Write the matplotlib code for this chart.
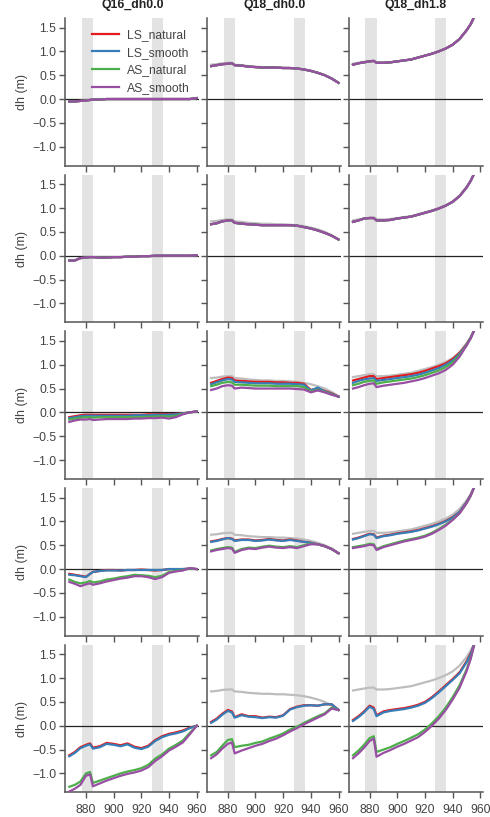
# Bibliothèque utilisée pour les calculs numériques
import numpy as np

# Bibliothèque utilisée pour tracer la grille de graphiques
import matplotlib
matplotlib.use("Agg")
import matplotlib.pyplot as plt

# Années échantillonnées (colonnes 1 et 2, puis colonne 3)
annees_12 = [868, 872, 876, 880, 883, 885, 890, 895, 900, 905, 910,
             915, 920, 925, 930, 935, 940, 945, 950, 955, 960]
annees_3 = [868, 872, 876, 880, 883, 885, 890, 895, 900, 905, 910,
            915, 920, 925, 930, 935, 940, 945, 950, 953, 956]

titres = ["Q16_dh0.0", "Q18_dh0.0", "Q18_dh1.8"]
series = ["LS_natural", "LS_smooth", "AS_natural", "AS_smooth"]

# Courbes de référence (en gris) des colonnes 2 et 3 ; la colonne 1 n'en a pas
ref_c2 = [0.72, 0.73, 0.75, 0.76, 0.76, 0.72, 0.71, 0.69, 0.68, 0.67, 0.67,
          0.66, 0.66, 0.65, 0.64, 0.62, 0.59, 0.55, 0.50, 0.43, 0.34]
ref_c3 = [0.74, 0.76, 0.78, 0.80, 0.80, 0.76, 0.76, 0.77, 0.79, 0.81, 0.83,
          0.87, 0.91, 0.95, 1.00, 1.06, 1.14, 1.26, 1.44, 1.57, 1.75]

# Ligne 1 : les quatre séries se confondent
r1_c1 = [-0.05, -0.05, -0.04, -0.03, -0.02, -0.01, -0.01, 0.0, 0.0, 0.0, 0.0,
         0.0, 0.0, 0.0, 0.0, 0.0, 0.0, 0.0, 0.0, 0.0, 0.02]
r1_c2 = [0.69, 0.71, 0.73, 0.74, 0.75, 0.71, 0.70, 0.68, 0.67, 0.66, 0.66,
         0.66, 0.65, 0.65, 0.64, 0.62, 0.59, 0.55, 0.50, 0.43, 0.34]
r1_c3 = [0.72, 0.75, 0.77, 0.79, 0.80, 0.76, 0.76, 0.77, 0.79, 0.81, 0.83,
         0.87, 0.91, 0.95, 1.00, 1.06, 1.14, 1.26, 1.44, 1.57, 1.75]

# Ligne 2 : idem
r2_c1 = [-0.10, -0.10, -0.05, -0.04, -0.03, -0.03, -0.04, -0.04, -0.03, -0.03, -0.02,
         -0.02, -0.01, -0.01, 0.0, 0.0, 0.0, 0.0, 0.0, 0.0, 0.01]
r2_c2 = [0.66, 0.68, 0.72, 0.74, 0.74, 0.69, 0.67, 0.66, 0.65, 0.64, 0.64,
         0.64, 0.64, 0.64, 0.63, 0.60, 0.57, 0.53, 0.48, 0.42, 0.34]
r2_c3 = [0.71, 0.74, 0.78, 0.79, 0.79, 0.74, 0.74, 0.75, 0.78, 0.80, 0.82,
         0.86, 0.90, 0.94, 0.99, 1.05, 1.13, 1.25, 1.43, 1.57, 1.75]

# Ligne 3
r3_c1_lsn = [-0.10, -0.08, -0.06, -0.05, -0.05, -0.05, -0.05, -0.05, -0.05, -0.05, -0.05,
             -0.05, -0.05, -0.04, -0.04, -0.03, -0.04, -0.03, -0.02, 0.0, 0.02]
r3_c1_lss = [-0.12, -0.10, -0.08, -0.07, -0.07, -0.07, -0.07, -0.07, -0.07, -0.07, -0.07,
             -0.06, -0.06, -0.06, -0.05, -0.05, -0.05, -0.04, -0.02, 0.0, 0.02]
r3_c1_asn = [-0.15, -0.13, -0.11, -0.10, -0.10, -0.11, -0.10, -0.10, -0.10, -0.10, -0.10,
             -0.10, -0.10, -0.09, -0.09, -0.08, -0.09, -0.07, -0.03, 0.0, 0.02]
r3_c1_ass = [-0.20, -0.17, -0.15, -0.15, -0.14, -0.16, -0.15, -0.14, -0.14, -0.14, -0.14,
             -0.13, -0.13, -0.12, -0.12, -0.11, -0.13, -0.10, -0.04, 0.0, 0.02]
r3_c2_lsn = [0.62, 0.66, 0.70, 0.73, 0.72, 0.67, 0.66, 0.65, 0.64, 0.64, 0.64,
             0.63, 0.63, 0.62, 0.62, 0.60, 0.47, 0.50, 0.45, 0.40, 0.33]
r3_c2_lss = [0.59, 0.63, 0.67, 0.70, 0.69, 0.64, 0.63, 0.62, 0.61, 0.61, 0.61,
             0.60, 0.60, 0.60, 0.59, 0.58, 0.46, 0.52, 0.44, 0.39, 0.33]
r3_c2_asn = [0.55, 0.58, 0.62, 0.64, 0.63, 0.58, 0.58, 0.57, 0.56, 0.56, 0.56,
             0.55, 0.55, 0.55, 0.55, 0.53, 0.44, 0.47, 0.43, 0.38, 0.33]
r3_c2_ass = [0.47, 0.50, 0.55, 0.57, 0.56, 0.50, 0.52, 0.51, 0.50, 0.50, 0.50,
             0.50, 0.50, 0.50, 0.49, 0.48, 0.42, 0.46, 0.42, 0.37, 0.33]
r3_c3_lsn = [0.67, 0.70, 0.73, 0.76, 0.76, 0.70, 0.72, 0.74, 0.76, 0.78, 0.80,
             0.83, 0.87, 0.92, 0.97, 1.03, 1.12, 1.25, 1.43, 1.57, 1.75]
r3_c3_lss = [0.62, 0.66, 0.69, 0.71, 0.72, 0.66, 0.68, 0.70, 0.72, 0.74, 0.76,
             0.79, 0.83, 0.88, 0.93, 1.00, 1.09, 1.23, 1.42, 1.57, 1.75]
r3_c3_asn = [0.57, 0.60, 0.64, 0.66, 0.67, 0.60, 0.63, 0.65, 0.67, 0.69, 0.71,
             0.74, 0.78, 0.83, 0.88, 0.95, 1.05, 1.20, 1.41, 1.56, 1.75]
r3_c3_ass = [0.50, 0.53, 0.57, 0.60, 0.61, 0.53, 0.56, 0.58, 0.60, 0.62, 0.65,
             0.68, 0.72, 0.77, 0.82, 0.89, 1.00, 1.17, 1.40, 1.55, 1.75]

# Ligne 4
r4_c1_lsn = [-0.10, -0.12, -0.14, -0.16, -0.10, -0.06, -0.04, -0.02, -0.02, -0.03, -0.02,
             -0.02, -0.01, -0.02, -0.03, -0.02, 0.0, 0.0, 0.0, 0.01, 0.0]
r4_c1_lss = [-0.12, -0.13, -0.15, -0.17, -0.10, -0.06, -0.04, -0.03, -0.03, -0.03, -0.02,
             -0.02, -0.02, -0.02, -0.02, -0.02, 0.0, 0.0, 0.0, 0.01, 0.0]
r4_c1_asn = [-0.22, -0.27, -0.30, -0.28, -0.25, -0.28, -0.26, -0.22, -0.20, -0.17, -0.15,
             -0.12, -0.13, -0.14, -0.17, -0.14, -0.06, -0.04, -0.02, 0.01, 0.0]
r4_c1_ass = [-0.27, -0.31, -0.36, -0.32, -0.30, -0.33, -0.30, -0.26, -0.23, -0.20, -0.18,
             -0.15, -0.15, -0.17, -0.21, -0.17, -0.08, -0.05, -0.03, 0.02, 0.0]
r4_c2_lsn = [0.58, 0.60, 0.63, 0.65, 0.64, 0.60, 0.62, 0.62, 0.60, 0.61, 0.63,
             0.61, 0.60, 0.62, 0.60, 0.57, 0.55, 0.52, 0.48, 0.42, 0.33]
r4_c2_lss = [0.57, 0.59, 0.62, 0.65, 0.63, 0.59, 0.61, 0.61, 0.59, 0.60, 0.62,
             0.60, 0.59, 0.61, 0.59, 0.57, 0.55, 0.52, 0.48, 0.42, 0.33]
r4_c2_asn = [0.39, 0.42, 0.44, 0.46, 0.45, 0.36, 0.42, 0.45, 0.44, 0.47, 0.49,
             0.47, 0.46, 0.48, 0.46, 0.50, 0.53, 0.52, 0.48, 0.42, 0.33]
r4_c2_ass = [0.37, 0.40, 0.42, 0.44, 0.43, 0.34, 0.40, 0.43, 0.42, 0.45, 0.47,
             0.45, 0.44, 0.46, 0.44, 0.48, 0.52, 0.52, 0.48, 0.42, 0.33]
r4_c3_lsn = [0.63, 0.66, 0.70, 0.74, 0.73, 0.66, 0.70, 0.72, 0.75, 0.77, 0.79,
             0.82, 0.86, 0.90, 0.95, 1.01, 1.09, 1.20, 1.40, 1.55, 1.75]
r4_c3_lss = [0.62, 0.65, 0.69, 0.73, 0.72, 0.65, 0.69, 0.71, 0.74, 0.76, 0.78,
             0.81, 0.85, 0.89, 0.94, 1.00, 1.08, 1.20, 1.40, 1.55, 1.75]
r4_c3_asn = [0.46, 0.48, 0.50, 0.53, 0.52, 0.42, 0.48, 0.52, 0.56, 0.60, 0.63,
             0.66, 0.70, 0.76, 0.84, 0.93, 1.04, 1.17, 1.38, 1.54, 1.75]
r4_c3_ass = [0.44, 0.46, 0.48, 0.51, 0.50, 0.40, 0.46, 0.50, 0.54, 0.58, 0.61,
             0.64, 0.68, 0.74, 0.82, 0.91, 1.03, 1.17, 1.38, 1.54, 1.75]

# Ligne 5
r5_c1_lsn = [-0.62, -0.55, -0.45, -0.40, -0.37, -0.46, -0.43, -0.36, -0.38, -0.41, -0.37,
             -0.44, -0.47, -0.42, -0.30, -0.22, -0.17, -0.14, -0.10, -0.04, 0.0]
r5_c1_lss = [-0.64, -0.57, -0.47, -0.42, -0.39, -0.48, -0.45, -0.38, -0.40, -0.43, -0.39,
             -0.46, -0.49, -0.44, -0.32, -0.24, -0.19, -0.16, -0.12, -0.05, 0.0]
r5_c1_asn = [-1.28, -1.24, -1.17, -1.00, -0.97, -1.20, -1.15, -1.10, -1.05, -1.00, -0.96,
             -0.93, -0.89, -0.82, -0.69, -0.60, -0.48, -0.40, -0.31, -0.15, 0.0]
r5_c1_ass = [-1.38, -1.32, -1.24, -1.05, -1.02, -1.27, -1.21, -1.15, -1.10, -1.05, -1.01,
             -0.98, -0.94, -0.87, -0.74, -0.64, -0.52, -0.44, -0.35, -0.18, 0.0]
r5_c2_lsn = [0.08, 0.15, 0.25, 0.33, 0.30, 0.18, 0.24, 0.20, 0.20, 0.17, 0.19,
             0.18, 0.22, 0.35, 0.40, 0.43, 0.43, 0.42, 0.45, 0.45, 0.33]
r5_c2_lss = [0.06, 0.13, 0.23, 0.31, 0.28, 0.17, 0.22, 0.19, 0.18, 0.16, 0.18,
             0.17, 0.21, 0.34, 0.39, 0.42, 0.43, 0.42, 0.45, 0.45, 0.33]
r5_c2_asn = [-0.62, -0.55, -0.42, -0.30, -0.28, -0.45, -0.42, -0.40, -0.36, -0.33, -0.27,
             -0.22, -0.16, -0.08, -0.02, 0.06, 0.13, 0.20, 0.26, 0.38, 0.33]
r5_c2_ass = [-0.68, -0.60, -0.48, -0.38, -0.35, -0.58, -0.52, -0.47, -0.42, -0.38, -0.32,
             -0.27, -0.20, -0.12, -0.05, 0.03, 0.10, 0.17, 0.24, 0.36, 0.33]
r5_c3_lsn = [0.12, 0.20, 0.30, 0.42, 0.38, 0.22, 0.30, 0.33, 0.35, 0.37, 0.40,
             0.44, 0.50, 0.60, 0.72, 0.85, 0.98, 1.12, 1.35, 1.52, 1.75]
r5_c3_lss = [0.10, 0.18, 0.28, 0.40, 0.35, 0.20, 0.28, 0.31, 0.33, 0.35, 0.38,
             0.42, 0.48, 0.58, 0.70, 0.83, 0.96, 1.10, 1.33, 1.50, 1.75]
r5_c3_asn = [-0.62, -0.52, -0.40, -0.26, -0.22, -0.55, -0.50, -0.45, -0.38, -0.32, -0.25,
             -0.18, -0.08, 0.05, 0.20, 0.38, 0.60, 0.85, 1.18, 1.42, 1.75]
r5_c3_ass = [-0.68, -0.58, -0.46, -0.32, -0.27, -0.65, -0.57, -0.51, -0.44, -0.38, -0.31,
             -0.24, -0.13, 0.00, 0.15, 0.33, 0.55, 0.80, 1.14, 1.40, 1.75]

# Périodes grisées
periodes = [(877, 885), (927.5, 935.5)]

graduations_x = [880, 900, 920, 940, 960]
graduations_y = [-1.0, -0.5, 0.0, 0.5, 1.0, 1.5]


def tracer_grille():
    """Trace la grille 5 x 3 des variations de niveau dh."""

    plt.rcParams['font.family'] = ['Liberation Sans', 'DejaVu Sans']
    plt.rcParams['text.color'] = '#444444'
    plt.rcParams['axes.labelcolor'] = '#444444'
    plt.rcParams['xtick.color'] = '#444444'
    plt.rcParams['ytick.color'] = '#444444'

    couleurs = ['#e41a1c', '#377eb8', '#4daf4a', '#984ea3']
    gris_ref = '#bdbdbd'

    # Tableau des panneaux : une liste de 4 séries par case
    panneaux = [
        [[r1_c1] * 4, [r1_c2] * 4, [r1_c3] * 4],
        [[r2_c1] * 4, [r2_c2] * 4, [r2_c3] * 4],
        [[r3_c1_lsn, r3_c1_lss, r3_c1_asn, r3_c1_ass],
         [r3_c2_lsn, r3_c2_lss, r3_c2_asn, r3_c2_ass],
         [r3_c3_lsn, r3_c3_lss, r3_c3_asn, r3_c3_ass]],
        [[r4_c1_lsn, r4_c1_lss, r4_c1_asn, r4_c1_ass],
         [r4_c2_lsn, r4_c2_lss, r4_c2_asn, r4_c2_ass],
         [r4_c3_lsn, r4_c3_lss, r4_c3_asn, r4_c3_ass]],
        [[r5_c1_lsn, r5_c1_lss, r5_c1_asn, r5_c1_ass],
         [r5_c2_lsn, r5_c2_lss, r5_c2_asn, r5_c2_ass],
         [r5_c3_lsn, r5_c3_lss, r5_c3_asn, r5_c3_ass]],
    ]
    references = [None, ref_c2, ref_c3]
    abscisses = [annees_12, annees_12, annees_3]

    fig, axes = plt.subplots(5, 3, figsize=(4.9, 8.17), dpi=100)
    fig.subplots_adjust(left=0.133, right=0.986, top=0.978, bottom=0.03,
                        wspace=0.056, hspace=0.06)

    for i in range(5):
        for j in range(3):
            ax = axes[i, j]
            x = np.array(abscisses[j])

            for debut, fin in periodes:
                ax.axvspan(debut, fin, color='#e3e3e3', lw=0, zorder=0)

            ax.axhline(0, color='#222222', lw=0.9, zorder=1)
            if references[j] is not None:
                ax.plot(x, references[j], color=gris_ref, lw=1.6, zorder=2)

            for k, nom in enumerate(series):
                ax.plot(x, panneaux[i][j][k], color=couleurs[k], lw=1.6,
                        label=nom, zorder=3 + k)

            ax.set_xlim(865, 962)
            ax.set_ylim(-1.4, 1.7)
            ax.set_xticks(graduations_x)
            ax.set_yticks(graduations_y)

            # Style proche de seaborn « ticks »
            for cote in ['top', 'right']:
                ax.spines[cote].set_visible(False)
            for cote in ['left', 'bottom']:
                ax.spines[cote].set_color('#555555')
                ax.spines[cote].set_linewidth(1.1)
            ax.tick_params(direction='out', length=4.5, width=1.0,
                           labelsize=8.8, color='#555555', pad=2)
            ax.tick_params(axis='x', pad=4)

            if i < 4:
                ax.set_xticklabels([])
            if j > 0:
                ax.set_yticklabels([])
            else:
                ax.set_ylabel('dh (m)', fontsize=9, labelpad=3)
            if i == 0:
                ax.set_title(titres[j], fontsize=8.8, fontweight='bold',
                             pad=7, color='#222222')

    # Légende dans le premier panneau
    axes[0, 0].legend(loc='upper left', bbox_to_anchor=(0.12, 1.0),
                      frameon=False, fontsize=8.7, handlelength=2.2,
                      labelspacing=0.48, handletextpad=0.7)

    fig.savefig('out.png', dpi=100)


if __name__ == "__main__":
    tracer_grille()
